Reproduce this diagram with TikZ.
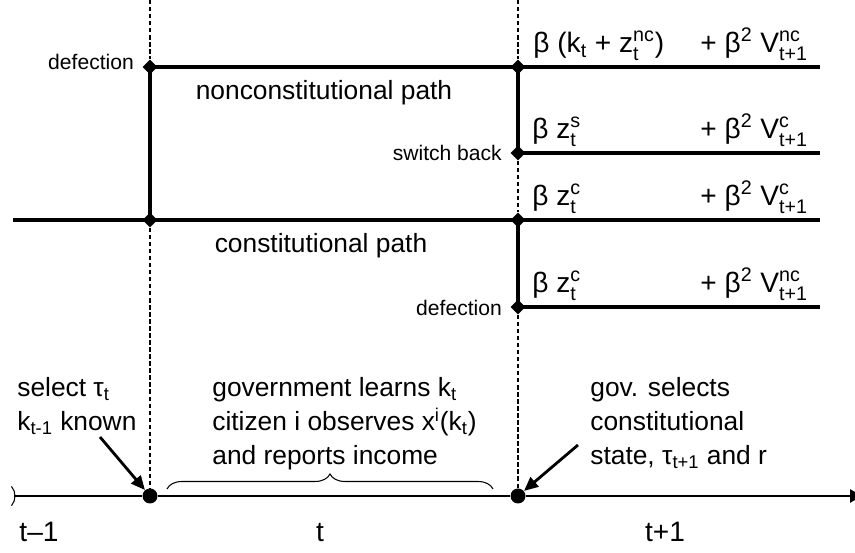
\documentclass[tikz,border=0pt]{standalone}
\usepackage{amsmath}
\usepackage{fontspec}
\setmainfont{Liberation Sans}
\usetikzlibrary{shapes.geometric,arrows.meta,decorations.pathreplacing}
\newcommand{\ts}[1]{$_{\text{#1}}$}
\newcommand{\tp}[1]{$^{\text{#1}}$}
\newcommand{\tps}[2]{$^{\text{#1}}_{\text{#2}}$}
\begin{document}
\begin{tikzpicture}[x=0.02cm,y=0.02cm,
	route/.style={line width=2.1pt},
	guide/.style={line width=0.8pt, dash pattern=on 2.5pt off 1.5pt},
	knot/.style={diamond, fill, inner sep=0pt, minimum size=0.3cm},
	event/.style={circle, fill, inner sep=0pt, minimum size=0.3cm},
	pointer/.style={line width=1.6pt, -{Triangle[length=8pt,width=7pt]}},
	tag/.style={inner sep=0pt, font=\fontsize{12pt}{14pt}\selectfont},
	pathlab/.style={inner sep=0pt, font=\fontsize{15pt}{18pt}\selectfont},
	val/.style={inner sep=0pt, anchor=base west, font=\fontsize{16pt}{19pt}\selectfont},
	note/.style={inner sep=0pt, anchor=north west, align=left, font=\fontsize{15pt}{19.5pt}\selectfont},
	period/.style={inner sep=0pt, anchor=base, font=\fontsize{16pt}{19pt}\selectfont}]
	\useasboundingbox (0,0) rectangle (855,553);
	% branching points
	\node[knot] (ncA) at (150,486) {};
	\node[knot] (cA) at (150,333) {};
	\node[knot] (ncB) at (518,486) {};
	\node[knot] (sw) at (518,400) {};
	\node[knot] (cB) at (518,333) {};
	\node[knot] (df) at (518,246) {};
	\coordinate (topA) at (150,553);
	\coordinate (topB) at (518,553);
	\coordinate (cStart) at (13,333);
	\coordinate (eNC) at (820,486);
	\coordinate (eSW) at (820,400);
	\coordinate (eC) at (820,333);
	\coordinate (eDF) at (820,246);
	% time line
	\node[event] (tA) at (150,57) {};
	\node[event] (tB) at (518,57) {};
	\coordinate (tStart) at (14,57);
	\coordinate (tEnd) at (866,57);
	\draw[guide] (topA) -- (ncA);
	\draw[guide] (cA) -- (tA);
	\draw[guide] (topB) -- (ncB);
	\draw[guide] (sw) -- (cB);
	\draw[guide] (df) -- (tB);
	\draw[route] (ncA.center) -- (eNC);
	\draw[route] (sw.center) -- (eSW);
	\draw[route] (cStart) -- (eC);
	\draw[route] (df.center) -- (eDF);
	\draw[route] (ncA.center) -- (cA.center);
	\draw[route] (ncB.center) -- (sw.center);
	\draw[route] (cB.center) -- (df.center);
	\draw[line width=0.6pt] (tStart) -- (tA);
	\draw[line width=0.6pt] ([shift={(-2.5,9.6)}]tStart) arc[start angle=40, end angle=-40, radius=0.3cm];
	\draw[line width=1.6pt, -{Latex[length=9pt,width=8pt]}] (tA) -- (tB) -- (tEnd);
	% labels at the branching points
	\node[tag, anchor=east] (defA) at ([shift={(-8,5)}]ncA.west) {defection};
	\node[tag, anchor=east] (swLab) at ([shift={(-8,0)}]sw.west) {switch back};
	\node[tag, anchor=east] (defB) at ([shift={(-8,-1)}]df.west) {defection};
	\node[pathlab] (ncLab) at (324,460) {nonconstitutional path};
	\node[pathlab] (cLab) at (321,307) {constitutional path};
	% payoffs
	\node[val] (pNC) at (533,500) {β (k\ts{t} + z\tps{nc}{t})};
	\node[val] (qNC) at (700,500) {+ β\tp{2} V\tps{nc}{t+1}};
	\node[val] (pSW) at (532,414) {β z\tps{s}{t}};
	\node[val] (qSW) at (700,414) {+ β\tp{2} V\tps{c}{t+1}};
	\node[val] (pC) at (532,347) {β z\tps{c}{t}};
	\node[val] (qC) at (700,347) {+ β\tp{2} V\tps{c}{t+1}};
	\node[val] (pDF) at (532,260) {β z\tps{c}{t}};
	\node[val] (qDF) at (700,260) {+ β\tp{2} V\tps{nc}{t+1}};
	% events on the time line
	\node[note] (sel) at (17,176) {select τ\ts{t}\\k\ts{t-1} known};
	\node[note] (learn) at (212,176) {government learns k\ts{t}\\citizen i observes x\tp{i}(k\ts{t})\\and reports income};
	\node[note] (gsel) at (590,176) {gov. selects\\constitutional\\state, τ\ts{t+1} and r};
	\coordinate (selTail) at (100,116);
	\coordinate (gselTail) at (578,108);
	\draw[pointer] (selTail) -- (tA);
	\draw[pointer] (gselTail) -- (tB);
	\draw[line width=0.6pt, decorate, decoration={brace, amplitude=0.3cm}] (167,64) -- (493,64);
	\node[period] (pPrev) at (39,11) {t–1};
	\node[period] (pNow) at (320,11) {t};
	\node[period] (pNext) at (665,11) {t+1};
\end{tikzpicture}
\end{document}
